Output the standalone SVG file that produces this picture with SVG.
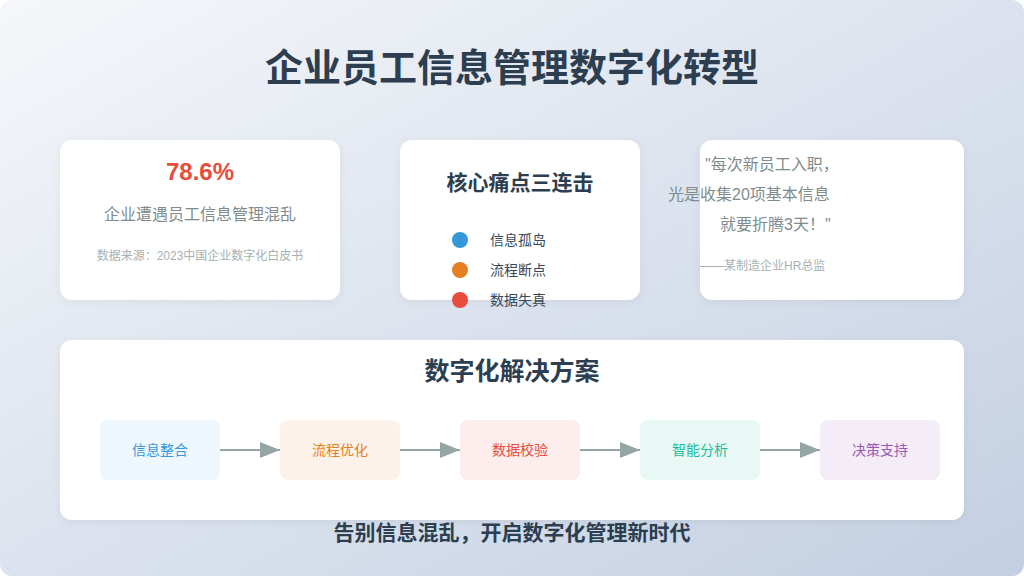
<svg xmlns="http://www.w3.org/2000/svg" width="1024" height="576" viewBox="0 0 1024 576">
<defs>
<linearGradient id="bg" x1="0" y1="0" x2="1" y2="1">
<stop offset="0" stop-color="#f5f7fa"/>
<stop offset="1" stop-color="#c3cfe2"/>
</linearGradient>
<filter id="sh" x="-10%" y="-10%" width="120%" height="130%">
<feDropShadow dx="0" dy="2" stdDeviation="4" flood-color="#000" flood-opacity="0.06"/>
</filter>
<marker id="arrow" markerUnits="userSpaceOnUse" markerWidth="20" markerHeight="16" refX="20" refY="8" orient="auto">
<path d="M0,0 L20,8 L0,16 Z" fill="#95a5a6"/>
</marker>
</defs>
<style>
text{font-family:"Liberation Sans","Noto Sans CJK SC",sans-serif;}
.card{fill:#fff;filter:url(#sh);}
.title{font-size:38px;font-weight:bold;fill:#2c3e50;text-anchor:middle;}
.h2{font-size:21px;font-weight:bold;fill:#2c3e50;text-anchor:middle;}
.item{font-size:14px;fill:#34495e;}
.quote{font-size:16px;fill:#7f8c8d;}
.step{font-size:14px;text-anchor:middle;}
.conn{stroke:#95a5a6;stroke-width:2;fill:none;marker-end:url(#arrow);}
</style>
<rect x="0" y="0" width="1024" height="576" rx="12" fill="url(#bg)"/>
<text id="title" class="title" x="512" y="81">企业员工信息管理数字化转型</text>

<g id="stat-card">
<rect class="card" x="60" y="140" width="280" height="160" rx="12"/>
<text x="200" y="180" font-size="24" font-weight="bold" fill="#e74c3c" text-anchor="middle">78.6%</text>
<text x="200" y="220" font-size="16" fill="#7f8c8d" text-anchor="middle">企业遭遇员工信息管理混乱</text>
<text x="200" y="260" font-size="12" fill="#a5b1b2" text-anchor="middle">数据来源：2023中国企业数字化白皮书</text>
</g>

<g id="pain-card">
<rect class="card" x="400" y="140" width="240" height="160" rx="12"/>
<text class="h2" x="520" y="190">核心痛点三连击</text>
<circle cx="460" cy="240" r="8" fill="#3498db"/>
<text class="item" x="490" y="245">信息孤岛</text>
<circle cx="460" cy="270" r="8" fill="#e67e22"/>
<text class="item" x="490" y="275">流程断点</text>
<circle cx="460" cy="300" r="8" fill="#e74c3c"/>
<text class="item" x="490" y="305">数据失真</text>
</g>

<g id="quote-card">
<rect class="card" x="700" y="140" width="264" height="160" rx="12"/>
<text class="quote" x="705" y="170">"每次新员工入职，</text>
<text class="quote" x="668" y="200">光是收集20项基本信息</text>
<text class="quote" x="720" y="230">就要折腾3天！"</text>
<text x="700" y="270" font-size="12" fill="#a5b1b2">——某制造企业HR总监</text>
</g>

<g id="solution-card">
<rect class="card" x="60" y="340" width="904" height="180" rx="12"/>
<text x="512" y="380" font-size="25" font-weight="bold" fill="#2c3e50" text-anchor="middle">数字化解决方案</text>
</g>

<g id="step1"><rect x="100" y="420" width="120" height="60" rx="8" fill="#eef7fd"/><text class="step" x="160" y="455" fill="#3498db">信息整合</text></g>
<g id="step2"><rect x="280" y="420" width="120" height="60" rx="8" fill="#fdf2e9"/><text class="step" x="340" y="455" fill="#e67e22">流程优化</text></g>
<g id="step3"><rect x="460" y="420" width="120" height="60" rx="8" fill="#fdedec"/><text class="step" x="520" y="455" fill="#e74c3c">数据校验</text></g>
<g id="step4"><rect x="640" y="420" width="120" height="60" rx="8" fill="#e8f8f5"/><text class="step" x="700" y="455" fill="#1abc9c">智能分析</text></g>
<g id="step5"><rect x="820" y="420" width="120" height="60" rx="8" fill="#f4ecf7"/><text class="step" x="880" y="455" fill="#9b59b6">决策支持</text></g>

<g id="connectors">
<line class="conn" x1="220" y1="450" x2="280" y2="450"/>
<line class="conn" x1="400" y1="450" x2="460" y2="450"/>
<line class="conn" x1="580" y1="450" x2="640" y2="450"/>
<line class="conn" x1="760" y1="450" x2="820" y2="450"/>
</g>

<text id="footer" class="h2" x="512" y="540">告别信息混乱，开启数字化管理新时代</text>
</svg>
